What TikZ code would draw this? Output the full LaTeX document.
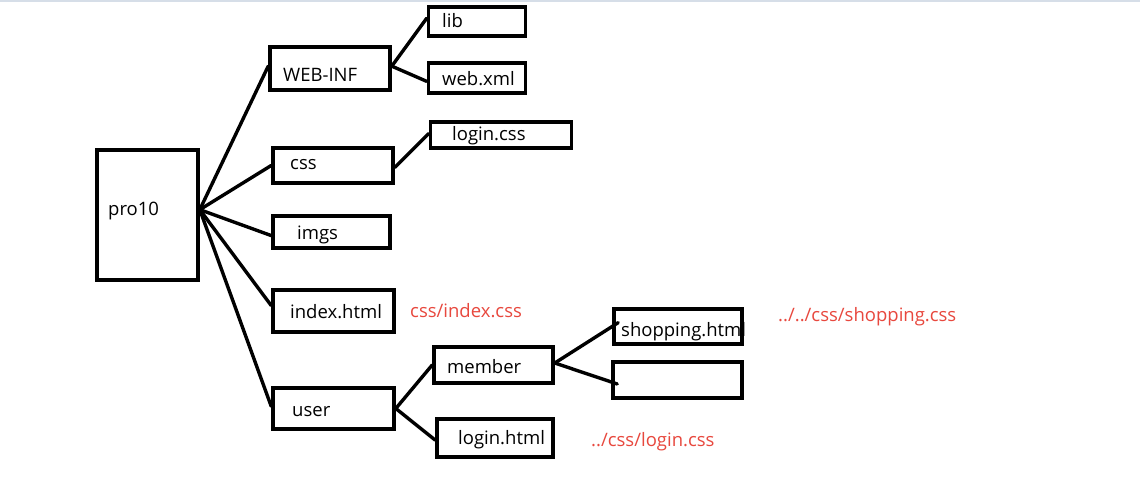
\documentclass[tikz,border=0pt]{standalone}
\usepackage{fontspec}
\setmainfont{Open Sans}
\usetikzlibrary{calc}
\definecolor{notered}{RGB}{232,72,62}
\definecolor{topline}{RGB}{214,222,232}
\begin{document}
\begin{tikzpicture}[x=1pt,y=-1pt,
  box/.style={draw=black,line width=3.6pt,inner sep=0pt},
  lbl/.style={anchor=west,inner sep=0pt,font=\fontsize{18.5}{21}\selectfont},
  note/.style={lbl,text=notered},
  link/.style={line width=3.4pt,line cap=round}]
\useasboundingbox[fill=white] (0,0) rectangle (1140,481);
\fill[topline] (0,0) rectangle (1140,2.5);
% boxes
\node[box,minimum width=101pt,minimum height=130pt] (pro) at (147.5,215) {};
\node[box,minimum width=120pt,minimum height=43pt] (web) at (330,68.5) {};
\node[box,minimum width=97pt,minimum height=29pt] (lib) at (477,21.5) {};
\node[box,minimum width=97pt,minimum height=30pt] (wxml) at (477,78) {};
\node[box,minimum width=141pt,minimum height=26pt] (lcss) at (501,135) {};
\node[box,minimum width=120pt,minimum height=35pt] (css) at (333,165.5) {};
\node[box,minimum width=117pt,minimum height=32pt] (imgs) at (331.5,232) {};
\node[box,minimum width=121pt,minimum height=42pt] (index) at (333.5,311) {};
\node[box,minimum width=121pt,minimum height=41pt] (user) at (333.5,408.5) {};
\node[box,minimum width=119pt,minimum height=36pt] (member) at (493.5,365) {};
\node[box,minimum width=116pt,minimum height=38pt] (lhtml) at (495,438) {};
\node[box,minimum width=128pt,minimum height=35pt] (shop) at (678,326.5) {};
\node[box,minimum width=129pt,minimum height=36pt] (empty) at (677.5,380) {};
% labels
\node[lbl] (tpro) at (108,211) {pro10};
\node[lbl] (tweb) at (283,75) {WEB-INF};
\node[lbl] (tlib) at (442,21) {lib};
\node[lbl] (twxml) at (442,79) {web.xml};
\node[lbl] (tlcss) at (452,136) {login.css};
\node[lbl] (tcss) at (290,165) {css};
\node[lbl] (timgs) at (297,235) {imgs};
\node[lbl] (tindex) at (290,312) {index.html};
\node[lbl] (tuser) at (292,412) {user};
\node[lbl] (tmember) at (447,367) {member};
\node[lbl] (tlhtml) at (458,440) {login.html};
\node[lbl] (tshop) at (621,332) {shopping.html};
\node[note] (n1) at (410,311) {css/index.css};
\node[note] (n2) at (778,317) {../../css/shopping.css};
\node[note] (n3) at (591,442) {../css/login.css};
% hubs
\coordinate (hp) at ($(pro.north east)!0.46!(pro.south east)$);
\coordinate (hw) at ($(web.north east)!0.45!(web.south east)$);
\coordinate (hc) at ($(css.north east)!0.55!(css.south east)$);
\coordinate (hu) at ($(user.north east)!0.5!(user.south east)$);
\coordinate (hm) at ($(member.north east)!0.45!(member.south east)$);
% connectors
\draw[link] (hp) -- ($(web.north west)!0.45!(web.south west)$);
\draw[link] (hp) -- ($(css.north west)!0.5!(css.south west)$);
\draw[link] (hp) -- ($(imgs.north west)!0.6!(imgs.south west)$);
\draw[link] (hp) -- ($(index.north west)!0.38!(index.south west)$);
\draw[link] (hp) -- ($(user.north west)!0.45!(user.south west)$);
\draw[link] (hw) -- ($(lib.north west)!0.4!(lib.south west)$);
\draw[link] (hw) -- ($(wxml.north west)!0.6!(wxml.south west)$);
\draw[link] (hc) -- ($(lcss.north west)!0.45!(lcss.south west)$);
\draw[link] (hu) -- ($(member.north west)!0.5!(member.south west)$);
\draw[link] (hu) -- ($(lhtml.north west)!0.55!(lhtml.south west)$);
\draw[link] (hm) -- ($(shop.north west)!0.4!(shop.south west)+(6,0)$);
\draw[link] (hm) -- ($(empty.north west)!0.6!(empty.south west)+(6,0)$);
\end{tikzpicture}
\end{document}
